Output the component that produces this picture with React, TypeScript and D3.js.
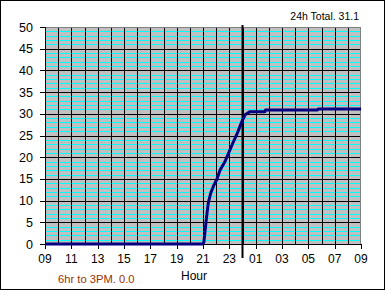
import React from "react";
import * as d3 from "d3";

// hours since 09:00, cumulative value
const hours = [0, 12.0, 12.07, 12.15, 12.23, 12.32, 12.4, 12.58, 12.83, 13.04, 13.29, 13.67, 13.99, 14.3, 14.6, 14.95, 15.2, 15.55, 16.7, 16.75, 20.7, 20.75, 24];
const values = [0, 0, 0.5, 2.8, 5.1, 7.5, 9.4, 11.7, 13.6, 14.8, 17, 19, 21.3, 23.5, 25.5, 28.2, 29.8, 30.5, 30.5, 30.9, 30.9, 31.1, 31.1];
const xTickLabels = ["09", "11", "13", "15", "17", "19", "21", "23", "01", "03", "05", "07", "09"];
const yTicks = [0, 5, 10, 15, 20, 25, 30, 35, 40, 45, 50];
const totalText = "24h Total. 31.1";
const subText = "6hr to 3PM. 0.0";
const xTitle = "Hour";
const midnightHour = 15;

export default function App() {
  const W = 385, H = 290;
  const L = 45, R = 361, T = 27, B = 244;
  const x = d3.scaleLinear().domain([0, 24]).range([L, R]);
  const y = d3.scaleLinear().domain([0, 50]).range([B, T]);
  const font = "'Liberation Sans', Arial, sans-serif";
  const data = hours.map((h, i) => [h, values[i]] as [number, number]);
  const line = d3.line<[number, number]>().x(d => x(d[0])).y(d => y(d[1]));
  const minor = d3.range(1, 50).filter(v => v % 5 !== 0);
  const hourLines = d3.range(1, 24);
  return (
    <svg width={W} height={H} style={{ position: "absolute", left: 0, top: 0, background: "#fff" }}>
      <rect x={0.5} y={0.5} width={W - 1} height={H - 1} fill="#fff" stroke="#000" />
      <rect x={L} y={T} width={R - L} height={B - T} fill="#c0c0c0" />
      {minor.map(v => (
        <line key={"m" + v} x1={L} x2={R} y1={Math.round(y(v)) + 0.5} y2={Math.round(y(v)) + 0.5} stroke="#00ffff" strokeWidth={1} shapeRendering="crispEdges" />
      ))}
      {hourLines.map(h => (
        <line key={"v" + h} x1={Math.round(x(h)) + 0.5} x2={Math.round(x(h)) + 0.5} y1={T} y2={B} stroke="#000" strokeWidth={1} shapeRendering="crispEdges" />
      ))}
      {yTicks.filter(v => v > 0 && v < 50).map(v => (
        <line key={"h" + v} x1={L} x2={R} y1={Math.round(y(v)) + 0.5} y2={Math.round(y(v)) + 0.5} stroke="#000" strokeWidth={1} shapeRendering="crispEdges" />
      ))}
      <line x1={L} x2={R} y1={T + 0.5} y2={T + 0.5} stroke="#808080" shapeRendering="crispEdges" />
      <line x1={R - 0.5} x2={R - 0.5} y1={T} y2={B} stroke="#808080" shapeRendering="crispEdges" />
      {/* y axis */}
      <line x1={L + 0.5} x2={L + 0.5} y1={T} y2={B + 1} stroke="#000" shapeRendering="crispEdges" />
      {yTicks.map(v => (
        <g key={"yt" + v}>
          <line x1={L - 5} x2={L} y1={Math.round(y(v)) + 0.5} y2={Math.round(y(v)) + 0.5} stroke="#000" shapeRendering="crispEdges" />
          <text x={33} y={y(v) + 4.5} textAnchor="end" fontFamily={font} fontSize={12.5} fill="#000">{v}</text>
        </g>
      ))}
      {/* x axis */}
      <line x1={L} x2={R} y1={B + 0.5} y2={B + 0.5} stroke="#000" shapeRendering="crispEdges" />
      {xTickLabels.map((lab, i) => (
        <g key={"xt" + i}>
          <line x1={Math.round(x(i * 2)) + 0.5} x2={Math.round(x(i * 2)) + 0.5} y1={B} y2={B + 5} stroke="#000" shapeRendering="crispEdges" />
          <text x={x(i * 2)} y={263} textAnchor="middle" fontFamily={font} fontSize={12} fill="#000">{lab}</text>
        </g>
      ))}
      {/* midnight marker */}
      <line x1={x(midnightHour)} x2={x(midnightHour)} y1={25} y2={258} stroke="#000" strokeWidth={2} />
      <path d={line(data) || ""} fill="none" stroke="#000080" strokeWidth={3} strokeLinejoin="round" />
      <text x={359} y={20} textAnchor="end" fontFamily={font} fontSize={10.5} fill="#000">{totalText}</text>
      <text x={181} y={280} fontFamily={font} fontSize={12} fill="#000">{xTitle}</text>
      <text x={58} y={283} fontFamily={font} fontSize={11.2} fill="#993300">{subText}</text>
    </svg>
  );
}
